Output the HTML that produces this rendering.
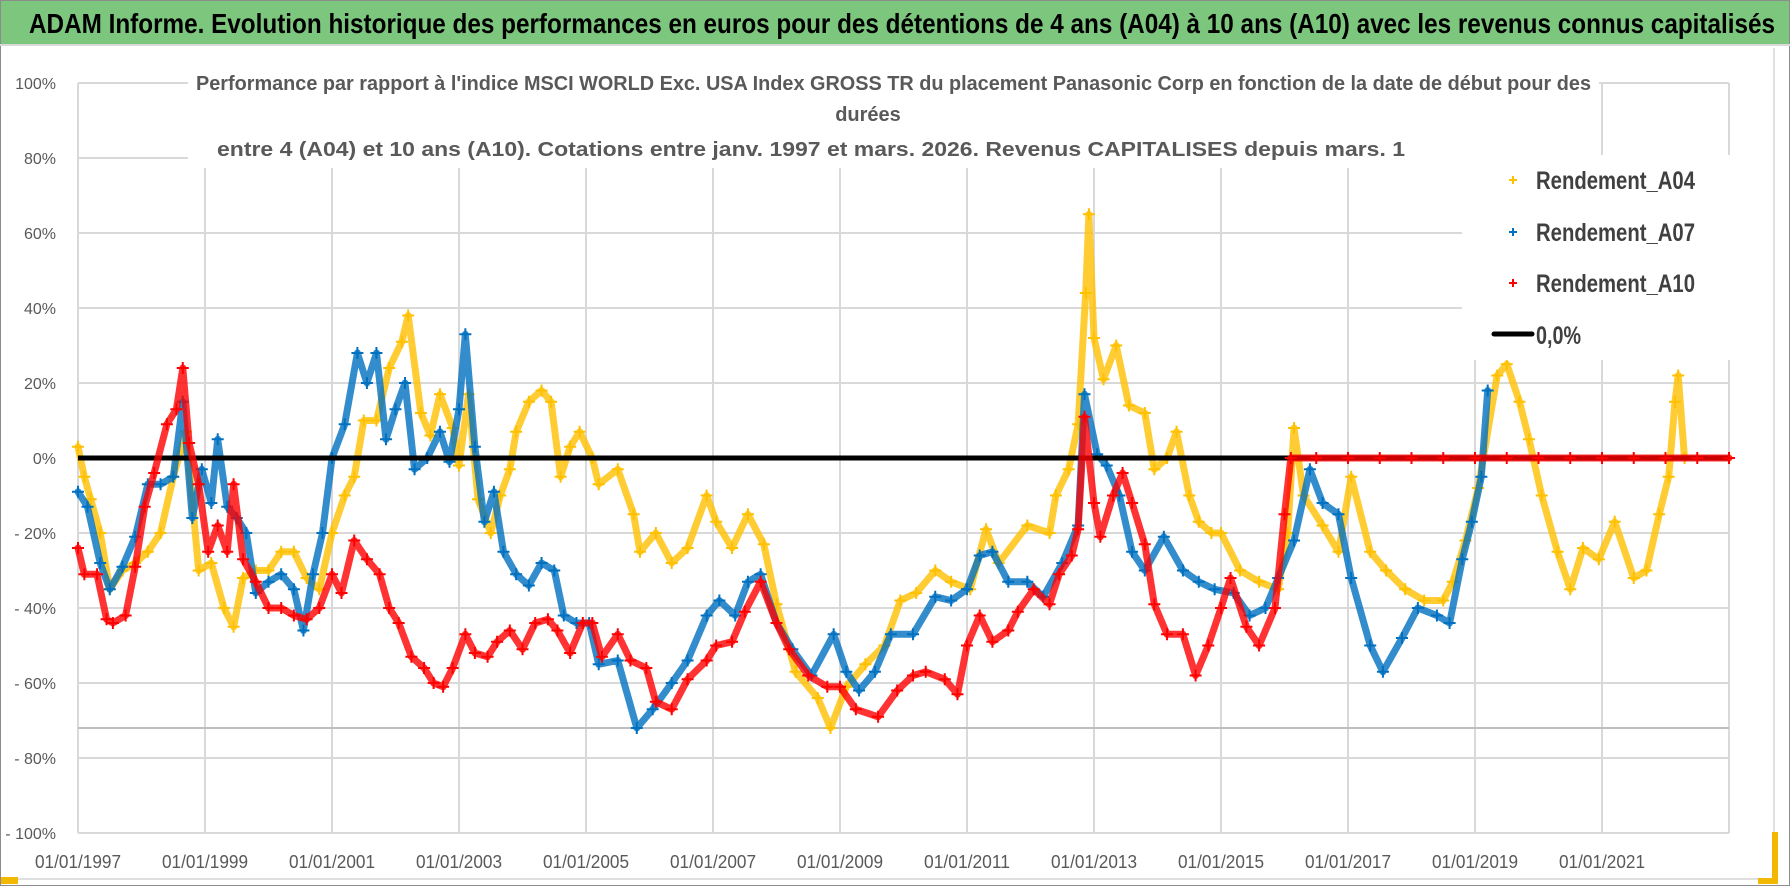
<!DOCTYPE html>
<html><head><meta charset="utf-8"><style>
html,body{margin:0;padding:0;background:#fff}
svg{display:block;font-family:"Liberation Sans",sans-serif}
</style></head><body>
<svg id="chart" width="1790" height="886" viewBox="0 0 1790 886" xmlns="http://www.w3.org/2000/svg">
<rect x="0.5" y="0.5" width="1789" height="885" fill="#fff" stroke="#8c8c8c"/>
<rect x="1" y="1" width="1788" height="43" fill="#7dc67e"/>
<line x1="0" y1="45" x2="1790" y2="45" stroke="#d9d9d9" stroke-width="2"/>
<text x="29" y="33" font-size="28" font-weight="bold" fill="#000" textLength="1746" lengthAdjust="spacingAndGlyphs">ADAM Informe. Evolution historique des performances en euros pour des détentions de 4 ans (A04) à 10 ans (A10) avec les revenus connus capitalisés</text>
<line x1="1774" y1="48" x2="1774" y2="880" stroke="#e0e0e0" stroke-width="2"/>
<line x1="2" y1="879" x2="1774" y2="879" stroke="#e0e0e0" stroke-width="2"/>
<rect x="1" y="877" width="17" height="7" fill="#f2b800"/>
<rect x="1772" y="832" width="6" height="52" fill="#f2b800"/>
<rect x="1758" y="878" width="20" height="6" fill="#f2b800"/>
<g id="grid"></g>
<g id="axes"></g>
<g id="series"></g>
<rect x="188" y="60" width="1411" height="108" fill="#fff"/>
<g font-weight="bold" fill="#595959" font-size="20">
<text x="196" y="90" textLength="1395" lengthAdjust="spacingAndGlyphs">Performance par rapport à l'indice MSCI WORLD Exc. USA Index GROSS TR  du placement Panasonic Corp en fonction de la date de début pour des</text>
<text x="868" y="121" text-anchor="middle">durées</text>
<text x="217" y="156" textLength="1188" lengthAdjust="spacingAndGlyphs">entre 4 (A04) et 10 ans (A10). Cotations entre janv. 1997 et mars. 2026. Revenus CAPITALISES depuis mars. 1</text>
</g>
<rect x="1462" y="155" width="268" height="205" fill="#fff"/>
<g font-weight="bold" fill="#404040" font-size="25">
<g><path d="M1509 180h8M1513 176v8" stroke="#FFC000" stroke-width="2"/><text x="1536" y="189" textLength="159" lengthAdjust="spacingAndGlyphs">Rendement_A04</text></g>
<g><path d="M1509 232h8M1513 228v8" stroke="#0070C0" stroke-width="2"/><text x="1536" y="241" textLength="159" lengthAdjust="spacingAndGlyphs">Rendement_A07</text></g>
<g><path d="M1509 283h8M1513 279v8" stroke="#FF0000" stroke-width="2"/><text x="1536" y="292" textLength="159" lengthAdjust="spacingAndGlyphs">Rendement_A10</text></g>
<g><line x1="1494" y1="334" x2="1532" y2="334" stroke="#000" stroke-width="5" stroke-linecap="round"/><text x="1536" y="344" textLength="45" lengthAdjust="spacingAndGlyphs">0,0%</text></g>
</g>
</svg>
<script>
const yTicks=[100,80,60,40,20,0,-20,-40,-60,-80,-100];
const yTickLabels=["100%","80%","60%","40%","20%","0%","- 20%","- 40%","- 60%","- 80%","- 100%"];
const xTickYears=[1997,1999,2001,2003,2005,2007,2009,2011,2013,2015,2017,2019,2021,2023];
const xTickLabels=["01/01/1997","01/01/1999","01/01/2001","01/01/2003","01/01/2005","01/01/2007","01/01/2009","01/01/2011","01/01/2013","01/01/2015","01/01/2017","01/01/2019","01/01/2021",""];
const refLineValue=-72;
const a04Years=[1997.0,1997.1,1997.2,1997.35,1997.5,1997.7,1997.9,1998.1,1998.3,1998.5,1998.7,1998.9,1999.1,1999.3,1999.45,1999.6,1999.8,2000.0,2000.2,2000.4,2000.6,2000.8,2001.0,2001.2,2001.35,2001.5,2001.7,2001.9,2002.1,2002.2,2002.4,2002.55,2002.7,2002.9,2003.0,2003.15,2003.3,2003.5,2003.65,2003.8,2003.9,2004.1,2004.3,2004.45,2004.6,2004.75,2004.9,2005.1,2005.2,2005.5,2005.75,2005.85,2006.1,2006.35,2006.6,2006.9,2007.05,2007.3,2007.55,2007.8,2008.0,2008.3,2008.65,2008.85,2009.1,2009.4,2009.7,2009.95,2010.2,2010.5,2010.75,2011.05,2011.3,2011.5,2011.95,2012.3,2012.4,2012.6,2012.75,2012.87,2012.92,2013.0,2013.15,2013.35,2013.55,2013.8,2013.95,2014.15,2014.3,2014.5,2014.65,2014.85,2015.0,2015.3,2015.6,2015.9,2016.05,2016.15,2016.3,2016.6,2016.85,2017.05,2017.35,2017.6,2017.9,2018.2,2018.5,2018.65,2018.85,2019.05,2019.35,2019.5,2019.7,2019.85,2020.05,2020.3,2020.5,2020.7,2020.95,2021.2,2021.5,2021.7,2021.9,2022.05,2022.15,2022.2,2022.3];
const a04Values=[3,-5,-11,-20,-35,-30,-28,-25,-20,-5,7,-30,-28,-40,-45,-32,-30,-30,-25,-25,-32,-35,-20,-10,-5,10,10,24,31,38,12,6,17,8,-2,17,-11,-20,-10,-3,7,15,18,15,-5,3,7,0,-7,-3,-15,-25,-20,-28,-24,-10,-17,-24,-15,-23,-39,-57,-64,-72,-61,-55,-50,-38,-36,-30,-33,-35,-19,-28,-18,-20,-10,-3,9,44,65,32,21,30,14,12,-3,0,7,-10,-17,-20,-20,-30,-33,-35,-20,8,-10,-18,-25,-5,-25,-30,-35,-38,-38,-33,-22,-8,22,25,15,5,-10,-25,-35,-24,-27,-17,-32,-30,-15,-5,15,22,0];
const a07Years=[1997.0,1997.15,1997.35,1997.5,1997.7,1997.9,1998.1,1998.3,1998.5,1998.65,1998.8,1998.95,1999.1,1999.2,1999.35,1999.5,1999.65,1999.8,2000.0,2000.2,2000.4,2000.55,2000.7,2000.85,2001.0,2001.2,2001.4,2001.55,2001.7,2001.85,2002.0,2002.15,2002.3,2002.5,2002.7,2002.85,2003.0,2003.1,2003.25,2003.4,2003.55,2003.7,2003.9,2004.1,2004.3,2004.5,2004.65,2004.85,2005.05,2005.2,2005.5,2005.8,2006.05,2006.35,2006.6,2006.9,2007.1,2007.35,2007.55,2007.75,2008.0,2008.25,2008.55,2008.9,2009.1,2009.3,2009.55,2009.8,2010.15,2010.5,2010.75,2011.0,2011.2,2011.4,2011.65,2011.95,2012.2,2012.5,2012.75,2012.85,2013.05,2013.2,2013.4,2013.6,2013.8,2014.1,2014.4,2014.65,2014.9,2015.2,2015.45,2015.7,2015.9,2016.15,2016.4,2016.6,2016.85,2017.05,2017.35,2017.55,2017.85,2018.1,2018.4,2018.6,2018.8,2018.95,2019.1,2019.2];
const a07Values=[-9,-13,-28,-35,-29,-21,-7,-7,-5,15,-16,-3,-12,5,-13,-16,-20,-36,-33,-31,-35,-46,-31,-20,0,9,28,20,28,5,13,20,-3,0,7,-1,13,33,3,-17,-9,-25,-31,-34,-28,-30,-42,-44,-44,-55,-54,-72,-67,-60,-54,-42,-38,-42,-33,-31,-44,-51,-58,-47,-57,-62,-57,-47,-47,-37,-38,-35,-26,-25,-33,-33,-37,-28,-18,17,1,-2,-10,-25,-30,-21,-30,-33,-35,-36,-42,-40,-32,-22,-3,-12,-15,-32,-50,-57,-48,-40,-42,-44,-27,-17,-5,18];
const a10Years=[1997.0,1997.1,1997.3,1997.45,1997.55,1997.75,1997.9,1998.05,1998.2,1998.4,1998.55,1998.65,1998.75,1998.9,1999.05,1999.2,1999.35,1999.45,1999.6,1999.8,2000.0,2000.2,2000.4,2000.6,2000.8,2001.0,2001.15,2001.35,2001.55,2001.75,2001.9,2002.05,2002.25,2002.45,2002.6,2002.75,2002.9,2003.1,2003.25,2003.45,2003.6,2003.8,2004.0,2004.2,2004.4,2004.55,2004.75,2004.95,2005.1,2005.25,2005.5,2005.7,2005.95,2006.1,2006.35,2006.6,2006.9,2007.05,2007.3,2007.5,2007.75,2008.0,2008.2,2008.5,2008.8,2009.0,2009.25,2009.6,2009.9,2010.15,2010.35,2010.65,2010.85,2011.0,2011.2,2011.4,2011.65,2011.8,2012.05,2012.3,2012.45,2012.65,2012.75,2012.85,2013.0,2013.1,2013.3,2013.45,2013.6,2013.8,2013.95,2014.15,2014.4,2014.6,2014.8,2015.0,2015.15,2015.4,2015.6,2015.85,2016.0,2016.1,2016.5,2017,2017.5,2018,2018.5,2019,2019.5,2020,2020.5,2021,2021.5,2022,2022.5,2023];
const a10Values=[-24,-31,-31,-43,-44,-42,-29,-13,-4,9,13,24,4,-7,-25,-18,-25,-7,-27,-33,-40,-40,-42,-43,-40,-31,-36,-22,-27,-31,-40,-44,-53,-56,-60,-61,-56,-47,-52,-53,-49,-46,-51,-44,-43,-46,-52,-44,-44,-53,-47,-54,-56,-65,-67,-59,-54,-50,-49,-41,-33,-44,-51,-58,-61,-61,-67,-69,-62,-58,-57,-59,-63,-50,-42,-49,-46,-41,-35,-39,-31,-26,-19,11,-12,-21,-10,-4,-12,-23,-39,-47,-47,-58,-50,-40,-32,-45,-50,-40,-15,0,0,0,0,0,0,0,0,0,0,0,0,0,0,0];

const NS="http://www.w3.org/2000/svg";
const X0=78,X1=1729,Y0=458,PER_YEAR=63.5,PER_PCT=3.75;
function xScale(yr){return X0+(yr-1997)*PER_YEAR;}
function yScale(v){return Y0-v*PER_PCT;}
function mk(tag,attrs,parent){const e=document.createElementNS(NS,tag);for(const k in attrs)e.setAttribute(k,attrs[k]);parent.appendChild(e);return e;}

const grid=document.getElementById('grid'),axes=document.getElementById('axes'),series=document.getElementById('series');
yTicks.forEach((v,i)=>{
  const l=mk('line',{x1:X0,x2:X1,y1:yScale(v),y2:yScale(v),stroke:'#d9d9d9','stroke-width':2},grid);
  
  
  const t=mk('text',{x:56,y:yScale(v)+6,'text-anchor':'end','font-size':16,fill:'#595959'},axes);
  t.textContent=yTickLabels[i];
  
  
});
xTickYears.forEach((yr,i)=>{
  const l=mk('line',{x1:xScale(yr),x2:xScale(yr),y1:yScale(100),y2:yScale(-100),stroke:'#d9d9d9','stroke-width':2},grid);
  
  
  if(xTickLabels[i]){
    const t=mk('text',{x:xScale(yr),y:868,'text-anchor':'middle','font-size':18,fill:'#595959',textLength:86,lengthAdjust:'spacingAndGlyphs'},axes);
    t.textContent=xTickLabels[i];
    
    
  }
});
const ref=mk('line',{x1:X0,x2:X1,y1:yScale(refLineValue),y2:yScale(refLineValue),stroke:'#bfbfbf','stroke-width':2},grid);



function drawSeries(yrs,vals,color,name,w){
  const g=mk('g',{},series);
  
  
  const pts=yrs.map((y,i)=>xScale(y).toFixed(1)+','+yScale(vals[i]).toFixed(1)).join(' ');
  const pl=mk('polyline',{points:pts,fill:'none',stroke:color,'stroke-width':w,'stroke-linejoin':'round','stroke-linecap':'round',opacity:0.8},g);
  
  
  let d='';
  yrs.forEach((y,i)=>{const x=xScale(y),yy=yScale(vals[i]);d+=`M${x-6},${yy}h12M${x},${yy-6}v12`;});
  const p=mk('path',{d:d,stroke:color,'stroke-width':2,fill:'none'},g);
  
  
}
drawSeries(a04Years,a04Values,'#FFC000','series-a04',7);
drawSeries(a07Years,a07Values,'#0070C0','series-a07',7);
const zl=mk('line',{x1:X0,x2:X1,y1:yScale(0),y2:yScale(0),stroke:'#000','stroke-width':5},series);


drawSeries(a10Years,a10Values,'#FF0000','series-a10',7);
</script>
</body></html>
